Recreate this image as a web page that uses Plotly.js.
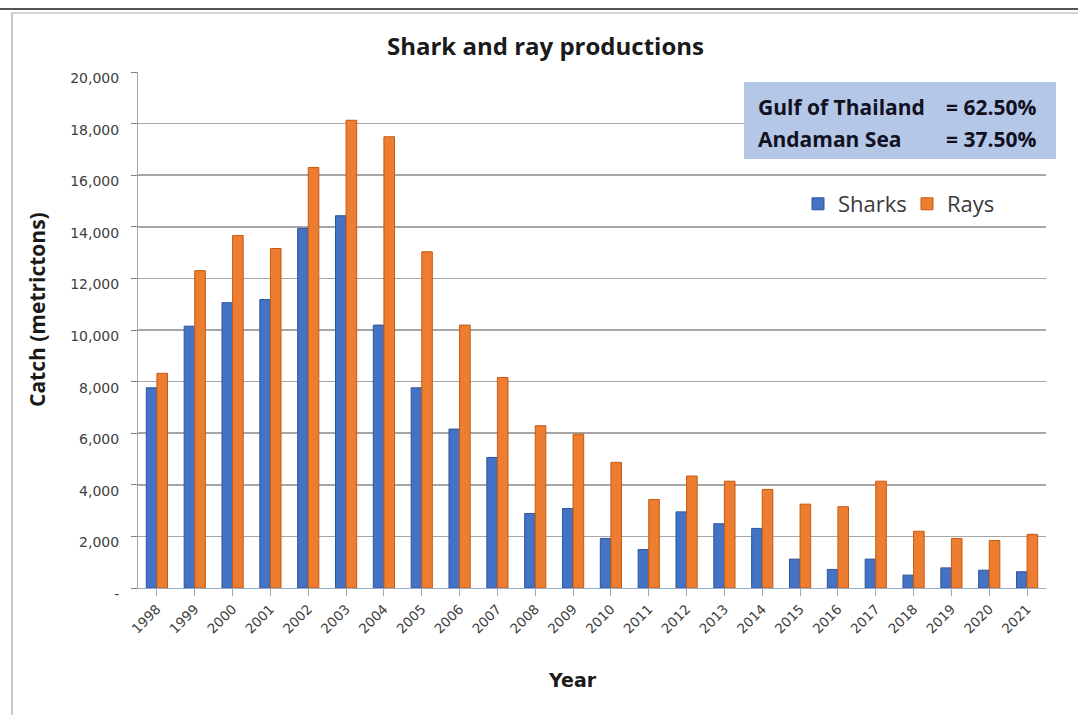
<!DOCTYPE html>
<html>
<head>
<meta charset="utf-8">
<script src="https://cdn.plot.ly/plotly-3.0.1.min.js"></script>
<style>
  html, body { margin: 0; padding: 0; background: #ffffff; }
  #chart { position: absolute; left: 0; top: 0; width: 1078px; height: 715px; }
  .rule-top { position: absolute; left: 0; top: 8px; width: 1078px; height: 2px; background: #555555; }
  .frame { position: absolute; left: 11px; top: 12px; width: 1067px; height: 703px;
           border-left: 2px solid #c8c8c8; border-top: 2px solid #d4d4d4; box-sizing: border-box; }
</style>
</head>
<body>
<div id="chart"></div>
<div class="rule-top"></div>
<div class="frame"></div>
<script>
// Annual shark and ray catch, metric tons
const years = ['1998','1999','2000','2001','2002','2003','2004','2005','2006','2007','2008','2009',
               '2010','2011','2012','2013','2014','2015','2016','2017','2018','2019','2020','2021'];
const sharks = [7760, 10150, 11060, 11180, 13940, 14430, 10190, 7760, 6160, 5060, 2890, 3080,
                1920, 1490, 2950, 2490, 2310, 1120, 720, 1120, 500, 780, 690, 630];
const rays = [8320, 12300, 13660, 13160, 16300, 18130, 17490, 13030, 10190, 8160, 6290, 5960,
              4870, 3430, 4340, 4140, 3820, 3250, 3150, 4140, 2200, 1920, 1840, 2080];

const yTickVals = [0, 2000, 4000, 6000, 8000, 10000, 12000, 14000, 16000, 18000, 20000];
const yTickText = ['-', '2,000', '4,000', '6,000', '8,000', '10,000', '12,000', '14,000', '16,000', '18,000', '20,000'];

const regionLabels = ['Gulf of Thailand', 'Andaman Sea'];
const regionShares = ['= 62.50%', '= 37.50%'];

const W = 1078, H = 715;
const M = { l: 138, r: 32, t: 72, b: 127 };
const PW = W - M.l - M.r, PH = H - M.t - M.b;
const px = x => (x - M.l) / PW;         // page x pixel -> paper x
const py = y => (H - M.b - y) / PH;     // page y pixel -> paper y

const traces = [
  { type: 'bar', name: 'Sharks', x: years, y: sharks,
    marker: { color: '#4472c4', line: { color: '#2f5597', width: 1 } } },
  { type: 'bar', name: 'Rays', x: years, y: rays,
    marker: { color: '#ed7d31', line: { color: '#c55a11', width: 1 } } }
];

const boxFont = { family: 'Open Sans', size: 21, color: '#111122' };
const rowY = [107, 139];

// share box: one label/value pair per row
const boxNotes = [];
regionLabels.forEach((lab, i) => {
  boxNotes.push({ xref: 'paper', yref: 'paper', x: px(756), y: py(rowY[i]),
    xanchor: 'left', yanchor: 'middle', text: '<b>' + lab + '</b>', showarrow: false, font: boxFont });
  boxNotes.push({ xref: 'paper', yref: 'paper', x: px(1038), y: py(rowY[i]),
    xanchor: 'right', yanchor: 'middle', text: '<b>' + regionShares[i] + '</b>', showarrow: false, font: boxFont });
});

const layout = {
  width: W, height: H,
  margin: M,
  paper_bgcolor: 'rgba(0,0,0,0)',
  plot_bgcolor: '#ffffff',
  barmode: 'group',
  bargap: 0.44,
  bargroupgap: 0,
  showlegend: true,
  hovermode: false,
  title: {
    text: '<b>Shark and ray productions</b>',
    x: 0.506, xanchor: 'center', xref: 'container',
    y: 1 - 47 / H, yanchor: 'middle', yref: 'container',
    font: { family: 'Open Sans', size: 24, color: '#1a1a1a' }
  },
  legend: {
    orientation: 'h',
    x: px(798), xanchor: 'left',
    y: py(204), yanchor: 'middle',
    bgcolor: 'rgba(0,0,0,0)',
    font: { family: 'Open Sans', size: 22, color: '#3a3a3a' },
    itemwidth: 30,
    entrywidth: 64
  },
  xaxis: {
    type: 'category',
    tickangle: -45,
    ticks: 'outside', ticklen: 7, tickcolor: '#9aaccc', tickwidth: 1,
    tickfont: { family: 'DejaVu Sans', size: 13.5, color: '#404040' },
    showline: true, linecolor: '#9aaccc', linewidth: 1,
    showgrid: false,
    fixedrange: true
  },
  yaxis: {
    range: [0, 20000],
    tickmode: 'array', tickvals: yTickVals, ticktext: yTickText,
    ticks: 'outside', ticklen: 6, tickcolor: '#808080',
    ticklabelstandoff: 9,
    ticklabelshift: 6,
    tickfont: { family: 'DejaVu Sans', size: 14, color: '#404040' },
    showgrid: true, gridcolor: '#a6a6a6', gridwidth: 1.6,
    showline: true, linecolor: '#a6a6a6', linewidth: 1,
    zeroline: false,
    fixedrange: true
  },
  shapes: [
    { type: 'rect', xref: 'paper', yref: 'paper', layer: 'above',
      x0: px(744), x1: px(1056), y0: py(159), y1: py(82),
      fillcolor: '#b4c7e7', line: { width: 0 } }
  ],
  annotations: boxNotes.concat([
    { xref: 'paper', yref: 'paper', x: px(37), y: py(310), xanchor: 'center', yanchor: 'middle',
      text: '<b>Catch (metrictons)</b>', textangle: -90, showarrow: false,
      font: { family: 'Open Sans', size: 21, color: '#1a1a1a' } },
    { xref: 'paper', yref: 'paper', x: px(572), y: py(680), xanchor: 'center', yanchor: 'middle',
      text: '<b>Year</b>', showarrow: false,
      font: { family: 'DejaVu Sans', size: 19, color: '#1a1a1a' } }
  ])
};

Plotly.newPlot('chart', traces, layout, { staticPlot: true, displayModeBar: false });
</script>
</body>
</html>
